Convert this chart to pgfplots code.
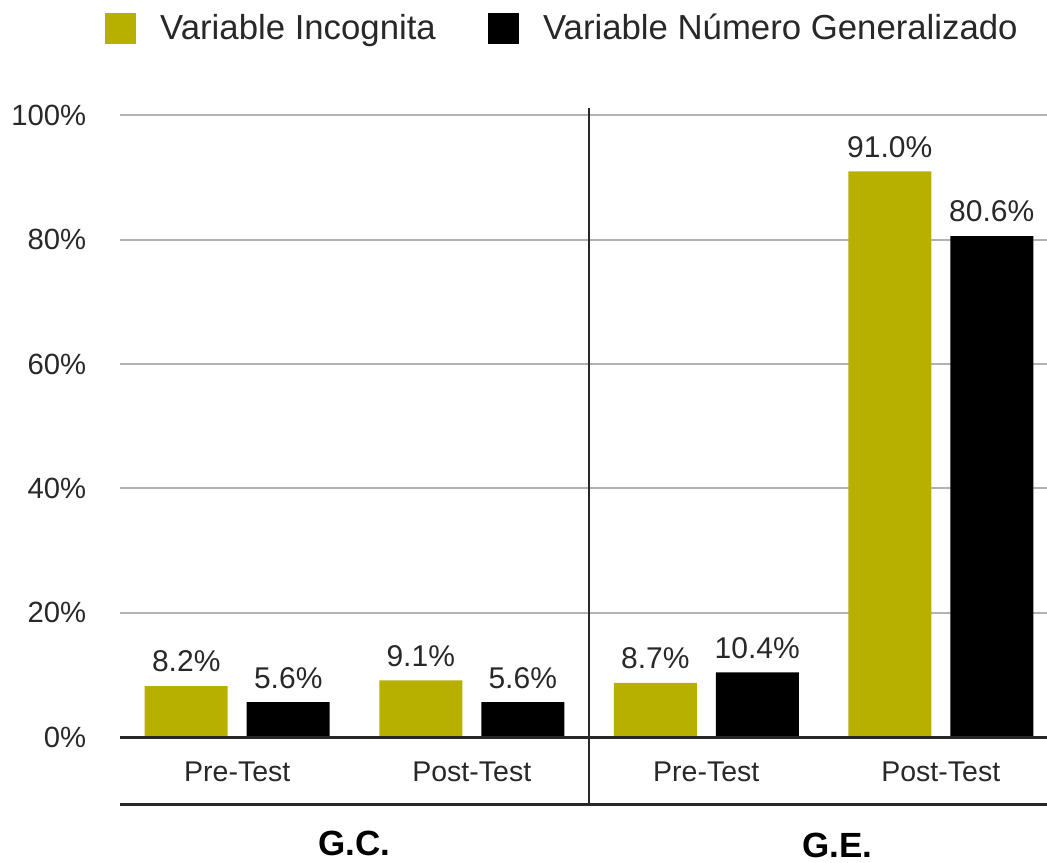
\documentclass[border=0pt]{standalone}
\usepackage{pgfplots}
\pgfplotsset{compat=1.18}
\usepackage{fontspec}
\setmainfont{Liberation Sans}
\definecolor{olivebar}{RGB}{184,176,0}
\definecolor{txt}{RGB}{40,40,40}
\definecolor{gridc}{RGB}{178,178,178}
\begin{document}
\begin{tikzpicture}
\useasboundingbox (-48pt,-23.2pt) rectangle (370.8pt,322pt);
\begin{axis}[
  at={(0,0)}, anchor=south west,
  scale only axis, width=370.8pt, height=278.8pt,
  xmin=-0.5, xmax=3.453, ymin=-10.93, ymax=101.2,
  ybar, bar width=33.2pt,
  clip=false,
  axis line style={draw=none},
  tick style={draw=none},
  xtick=\empty,
  ytick={0,20,40,60,80,100},
  /pgf/number format/assume math mode=true,
  yticklabel={\pgfmathprintnumber{\tick}\%},
  yticklabel style={font=\fontsize{11.7}{14}\selectfont, text=txt, xshift=-10pt},
  ymajorgrids, grid style={gridc, line width=0.8pt},
  nodes near coords={\pgfmathprintnumber[fixed,fixed zerofill,precision=1]{\pgfplotspointmeta}\%},
  every node near coord/.append style={font=\fontsize{12}{14}\selectfont, text=txt, yshift=2pt},
  legend columns=2,
  legend style={draw=none, fill=none, at={(rel axis cs:0,1)}, anchor=west,
    xshift=-6pt, yshift=31.6pt, inner sep=0pt,
    font=\fontsize{13.9}{16}\selectfont, text=txt,
    /tikz/every even column/.append style={column sep=19pt},
    /tikz/every odd column/.append style={column sep=7.5pt}},
  legend cell align=left,
]
\addlegendimage{legend image code/.code={\fill[olivebar] (0pt,-6pt) rectangle (12pt,6pt);}}
\addlegendentry{Variable Incognita}
\addlegendimage{legend image code/.code={\fill[black] (0pt,-6pt) rectangle (12pt,6pt);}}
\addlegendentry{Variable Número Generalizado}
\addplot[fill=olivebar, draw=none, bar shift=-20.4pt, forget plot] coordinates {(0,8.2) (1,9.1) (2,8.7) (3,91.0)};
\addplot[fill=black, draw=none, bar shift=20.4pt, forget plot] coordinates {(0,5.6) (1,5.6) (2,10.4) (3,80.6)};
\draw[line width=1.2pt, color=txt] (axis cs:-0.5,0) -- (axis cs:3.453,0);
\draw[line width=1.2pt, color=txt] (axis cs:-0.5,-10.93) -- (axis cs:3.453,-10.93);
\draw[line width=0.9pt, color=txt] (axis cs:1.5,-10.93) -- (axis cs:1.5,101.2);
\node[anchor=base, font=\fontsize{11.4}{14}\selectfont, text=txt, inner sep=0pt] at (axis cs:0,-7.1) {Pre-Test};
\node[anchor=base, font=\fontsize{11.4}{14}\selectfont, text=txt, inner sep=0pt] at (axis cs:1,-7.1) {Post-Test};
\node[anchor=base, font=\fontsize{11.4}{14}\selectfont, text=txt, inner sep=0pt] at (axis cs:2,-7.1) {Pre-Test};
\node[anchor=base, font=\fontsize{11.4}{14}\selectfont, text=txt, inner sep=0pt] at (axis cs:3,-7.1) {Post-Test};
\node[anchor=base, font=\fontsize{14}{16}\bfseries\selectfont, inner sep=0pt] at (axis cs:0.501,-19.0) {G.C.};
\node[anchor=base, font=\fontsize{14}{16}\bfseries\selectfont, inner sep=0pt] at (axis cs:2.56,-19.3) {G.E.};
\end{axis}
\end{tikzpicture}
\end{document}
